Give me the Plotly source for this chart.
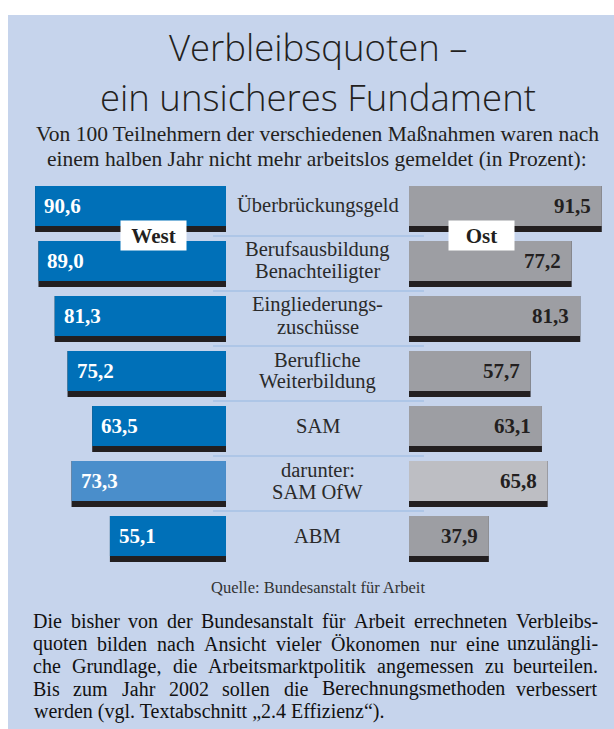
import plotly.graph_objects as go

W, H = 614, 729

# ---- data ----
categories = ["Überbrückungsgeld", "Berufsausbildung<br>Benachteiligter", "Eingliederungs-<br>zuschüsse",
              "Berufliche<br>Weiterbildung", "SAM", "darunter:<br>SAM OfW", "ABM"]
west = [90.6, 89.0, 81.3, 75.2, 63.5, 73.3, 55.1]
ost = [91.5, 77.2, 81.3, 57.7, 63.1, 65.8, 37.9]
west_labels = ["90,6", "89,0", "81,3", "75,2", "63,5", "73,3", "55,1"]
ost_labels = ["91,5", "77,2", "81,3", "57,7", "63,1", "65,8", "37,9"]

title_lines = ["Verbleibsquoten –", "ein unsicheres Fundament"]
subtitle_lines = ["Von 100 Teilnehmern der verschiedenen Maßnahmen waren nach",
                  "einem halben Jahr nicht mehr arbeitslos gemeldet (in Prozent):"]
source = "Quelle: Bundesanstalt für Arbeit"
paragraph = ["Die bisher von der Bundesanstalt für Arbeit errechneten Verbleibs-",
             "quoten bilden nach Ansicht vieler Ökonomen nur eine unzulängli-",
             "che Grundlage, die Arbeitsmarktpolitik angemessen zu beurteilen.",
             "Bis zum Jahr 2002 sollen die Berechnungsmethoden verbessert",
             "werden (vgl. Textabschnitt „2.4 Effizienz“)."]

# ---- styles ----
BG = "#c6d4ec"
BLUE = "#0070b8"
BLUE_L = "#4a8ecb"
GREY = "#9d9ea3"
GREY_L = "#bdbec3"
BLACK = "#231f20"
SERIF = "Liberation Serif"
idx = list(range(len(categories)))
west_colors = [BLUE_L if "OfW" in c else BLUE for c in categories]
ost_colors = [GREY_L if "OfW" in c else GREY for c in categories]

# Times / Liberation Serif advance widths (1/1000 em) for justified text layout
_TW = {" ": 250, ".": 250, ",": 250, "-": 333, "(": 333, ")": 333, ":": 278, "„": 444, "“": 444}
_TW.update({c: w for c, w in zip("abcdefghijklmnopqrstuvwxyz",
                                 [444, 500, 444, 500, 444, 333, 500, 500, 278, 278, 500, 278, 778,
                                  500, 500, 500, 500, 333, 389, 278, 500, 500, 722, 500, 500, 444])})
_TW.update({c: w for c, w in zip("ABCDEFGHIJKLMNOPQRSTUVWXYZ",
                                 [722, 667, 667, 722, 611, 556, 722, 722, 333, 389, 722, 611, 889,
                                  722, 722, 556, 722, 667, 556, 611, 722, 722, 944, 722, 722, 611])})
_TW.update({d: 500 for d in "0123456789"})
_TW.update({"ä": 444, "ö": 500, "ü": 500, "Ö": 722, "ß": 500})


def text_w(s, size):
    return sum(_TW.get(ch, 500) for ch in s) * size / 1000.0


def px_x(p):
    return p / W


def px_y(p):
    return 1 - p / H


fig = go.Figure()
BAR_W, FILL_W, OFF = 0.836, 0.727, -0.418
for vals, cols, ax in [(west, west_colors, "x"), (ost, ost_colors, "x2")]:
    fig.add_trace(go.Bar(x=vals, y=idx, orientation="h", width=BAR_W, offset=OFF,
                         marker=dict(color=BLACK, line=dict(width=0)), xaxis=ax, yaxis="y",
                         hoverinfo="skip", showlegend=False))
    fig.add_trace(go.Bar(x=vals, y=idx, orientation="h", width=FILL_W, offset=OFF,
                         marker=dict(color=cols, line=dict(width=0)), xaxis=ax, yaxis="y",
                         hoverinfo="skip", showlegend=False))

ann = []
# category labels and values
CAT_SIZE, CAT_LS = 20.5, 22
for i, c in enumerate(categories):
    lines = c.split("<br>")
    n = len(lines)
    for j, ln in enumerate(lines):
        ann.append(dict(xref="paper", yref="y", x=px_x(317.5), y=i - 0.055, text=ln, showarrow=False,
                        xanchor="center", yanchor="middle", yshift=(n - 1) * CAT_LS / 2 - j * CAT_LS,
                        font=dict(family=SERIF, size=CAT_SIZE, color="#2a2a2a")))
    ann.append(dict(xref="x", yref="y", x=west[i], y=i - 0.055, text="<b>%s</b>" % west_labels[i],
                    showarrow=False, xanchor="left", yanchor="middle", xshift=7,
                    font=dict(family=SERIF, size=21, color="white")))
    ann.append(dict(xref="x2", yref="y", x=ost[i], y=i - 0.055, text="<b>%s</b>" % ost_labels[i],
                    showarrow=False, xanchor="right", yanchor="middle", xshift=-9,
                    font=dict(family=SERIF, size=21, color="#231f20")))

for name, ax in [("West", "x"), ("Ost", "x2")]:
    ann.append(dict(xref=ax, yref="y", x=34.4, y=0.48, text="<b>%s</b>" % name, showarrow=False,
                    xanchor="center", yanchor="middle", width=65, height=29, bgcolor="white",
                    borderpad=0, font=dict(family=SERIF, size=21, color="#231f20")))

for t, yc in zip(title_lines, [47.5, 96.5]):
    ann.append(dict(xref="paper", yref="paper", x=px_x(318), y=px_y(yc), text=t, showarrow=False,
                    xanchor="center", yanchor="middle",
                    font=dict(family="Open Sans", size=36.5, color="#231f20", weight=300)))
for t, yc in zip(subtitle_lines, [134.5, 158.5]):
    ann.append(dict(xref="paper", yref="paper", x=px_x(317), y=px_y(yc), text=t, showarrow=False,
                    xanchor="center", yanchor="middle",
                    font=dict(family=SERIF, size=21.5, color="#231f20")))
ann.append(dict(xref="paper", yref="paper", x=px_x(318), y=px_y(587), text=source, showarrow=False,
                xanchor="center", yanchor="middle", font=dict(family=SERIF, size=16.5, color="#333333")))

# justified paragraph (last line left aligned)
P_SIZE, P_LEFT, P_RIGHT = 20, 32, 599
pfont = dict(family=SERIF, size=P_SIZE, color="#111111")
for k, t in enumerate(paragraph):
    yc = px_y(621 + 22.5 * k)
    if k == len(paragraph) - 1:
        ann.append(dict(xref="paper", yref="paper", x=px_x(P_LEFT), y=yc, text=t, showarrow=False,
                        xanchor="left", yanchor="middle", font=pfont))
        continue
    words = t.split(" ")
    widths = [text_w(wd, P_SIZE) for wd in words]
    gap = (P_RIGHT - P_LEFT - sum(widths)) / (len(words) - 1)
    xpos = P_LEFT
    for m, wd in enumerate(words):
        last = m == len(words) - 1
        ann.append(dict(xref="paper", yref="paper", x=px_x(P_RIGHT if last else xpos), y=yc, text=wd,
                        showarrow=False, xanchor="right" if last else "left", yanchor="middle",
                        font=pfont, borderpad=0))
        xpos += widths[m] + gap

shapes = [dict(type="rect", xref="paper", yref="paper", x0=px_x(8), x1=1, y0=0, y1=px_y(15),
               fillcolor=BG, line=dict(width=0), layer="below")]
for i in range(len(categories) - 1):
    shapes.append(dict(type="line", xref="paper", yref="y", x0=px_x(213), x1=px_x(424),
                       y0=i + 0.49, y1=i + 0.49, line=dict(color="#a6c2e6", width=1.5), layer="below"))

XMAX = 95
fig.update_layout(
    width=W, height=H, margin=dict(l=0, r=0, t=0, b=0), autosize=False,
    paper_bgcolor="white", plot_bgcolor="rgba(0,0,0,0)", barmode="overlay",
    xaxis=dict(domain=[px_x(226 - XMAX * 2.107), px_x(226)], range=[XMAX, 0], visible=False,
               fixedrange=True),
    xaxis2=dict(domain=[px_x(409), px_x(409 + XMAX * 2.107)], range=[0, XMAX], visible=False,
                anchor="y", fixedrange=True),
    yaxis=dict(domain=[px_y(566.5), px_y(181.5)], range=[6.5, -0.5], visible=False, fixedrange=True),
    annotations=ann, shapes=shapes,
)
fig.write_html("out.html", config={"displayModeBar": False},
               post_script="document.body.style.margin='0';document.body.style.overflow='hidden';")
